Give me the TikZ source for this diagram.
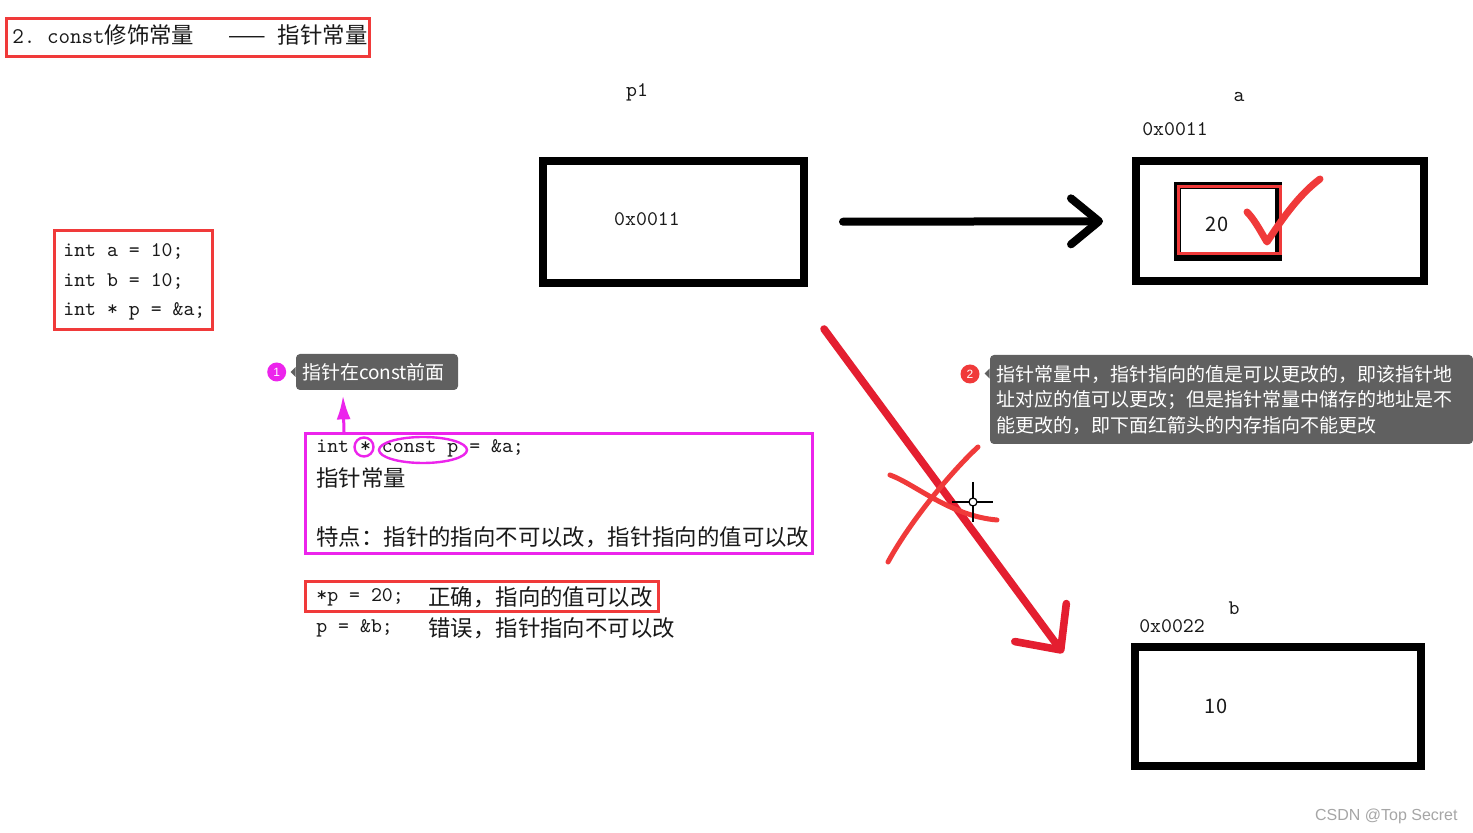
\documentclass[tikz,border=0pt]{standalone}
\usepackage{fontspec}
\setmainfont{Noto Sans CJK SC}
\setsansfont{Liberation Sans}
\definecolor{markred}{RGB}{240, 58, 58}
\definecolor{inkred}{RGB}{228, 30, 48}
\definecolor{markpink}{RGB}{236, 36, 236}
\definecolor{notegray}{RGB}{96, 96, 96}
\definecolor{textgray}{RGB}{25, 25, 25}
\usetikzlibrary{arrows.meta, positioning, shapes.geometric}
\tikzset{
	membox/.style={rectangle, draw=black, line width=4pt, inner sep=0pt},
	redframe/.style={rectangle, draw=markred, line width=1.5pt, inner sep=0pt},
	pinkframe/.style={rectangle, draw=markpink, line width=1.5pt, inner sep=0pt},
	pinkring/.style={ellipse, draw=markpink, line width=1.2pt, inner sep=0pt},
	codeline/.style={font=\ttfamily\fontsize{10.4}{12}\selectfont, text=textgray, inner sep=0pt, anchor=west},
	cjkline/.style={font=\fontsize{11.2}{13}\selectfont, text=textgray, inner sep=0pt, anchor=west},
	memlabel/.style={font=\ttfamily\fontsize{10.4}{12}\selectfont, text=textgray, inner sep=0pt},
	memvalue/.style={font=\fontsize{10}{12}\selectfont, text=textgray, inner sep=0pt},
	notebox/.style={rectangle, rounded corners=2pt, fill=notegray, text=white, font=\fontsize{9.5}{12.75}\selectfont, align=left, inner xsep=3pt, inner ysep=0pt},
	badge/.style={circle, text=white, font=\sffamily\fontsize{6}{6}\selectfont, inner sep=0pt, minimum size=9.5pt},
	ptrarrow/.style={-{Straight Barb[round, length=14pt, width=23pt]}, line width=4pt, line cap=round, draw=black},
	inkarrow/.style={-{Straight Barb[round, length=17pt, width=32pt]}, line width=3.8pt, line cap=round, draw=inkred},
	pinkarrow/.style={-{Latex[length=12pt, width=7pt]}, line width=1.5pt, draw=markpink},
	pen/.style={line width=2.5pt, line cap=round, line join=round, draw=markred},
}
\begin{document}
\begin{tikzpicture}[x=0.5pt, y=-0.5pt]
	\useasboundingbox[fill=white] (0,0) rectangle (1473,833);
	% title
	\node[redframe, minimum width=181.5pt, minimum height=19pt] (titlebox) at (188,37.5) {};
	\node[cjkline] (title) at (12,35) {{\ttfamily 2.\ const}修饰常量\hspace{17pt}——\hspace{6pt}指针常量};
	% variables
	\node[redframe, minimum width=79pt, minimum height=49.5pt] (varbox) at (133.5,280) {};
	\node[codeline] (vara) at (63,251) {int a = 10;};
	\node[codeline] (varb) at (63,281) {int b = 10;};
	\node[codeline] (varp) at (63,311) {int * p = \&a;};
	% memory
	\node[membox, minimum width=130.5pt, minimum height=61pt] (p1box) at (673.5,222) {};
	\node[memlabel] (p1name) at (637,92) {p1};
	\node[memlabel] (p1val) at (647,219) {0x0011};
	\node[membox, minimum width=144pt, minimum height=60pt] (abox) at (1280,221) {};
	\node[memlabel] (aname) at (1239,97) {a};
	\node[memlabel] (aaddr) at (1175,129) {0x0011};
	\node[membox, line width=3.5pt, minimum width=50.5pt, minimum height=36pt] (ainner) at (1227.5,222) {};
	\node[redframe, minimum width=51pt, minimum height=33.5pt] (amark) at (1229.5,220) {};
	\node[memvalue] (aval) at (1217,224) {20};
	\node[membox, minimum width=143pt, minimum height=59.5pt] (bbox) at (1278,706.5) {};
	\node[memlabel] (bname) at (1234,608) {b};
	\node[memlabel] (baddr) at (1172,626) {0x0022};
	\node[memvalue] (bval) at (1216,706) {10};
	% pointer const
	\node[pinkframe, minimum width=253.5pt, minimum height=60pt] (pinkbox) at (559,493.5) {};
	\node[codeline] (ptrcode) at (316,448) {int * const p = \&a;};
	\node[pinkring, minimum width=9.5pt, minimum height=9.5pt] (starring) at (364,447) {};
	\node[pinkring, minimum width=44pt, minimum height=13pt] (constring) at (423,450) {};
	\node[cjkline] (ptrname) at (316,478) {指针常量};
	\node[cjkline] (ptrnote) at (316,537) {特点：指针的指向不可以改，指针指向的值可以改};
	\node[redframe, minimum width=176.5pt, minimum height=15pt] (okbox) at (482,596.5) {};
	\node[codeline] (okcode) at (316,597) {*p = 20;};
	\node[cjkline] (oktext) at (428,597) {正确，指向的值可以改};
	\node[codeline] (badcode) at (316,628) {p = \&b;};
	\node[cjkline] (badtext) at (428,628) {错误，指针指向不可以改};
	% notes
	\node[notebox, minimum width=81pt, minimum height=18pt, text width=75pt] (note1) at (377,372) {指针在const前面};
	\fill[notegray] ([yshift=2.5pt]note1.west) -- ++(-2.5pt,-2.5pt) -- ++(2.5pt,-2.5pt) -- cycle;
	\node[badge, fill=markpink, left=4.5pt of note1] (badge1) {1};
	\node[notebox, minimum width=241.5pt, minimum height=44.5pt, text width=235.5pt] (note2) at (1231.5,399.5) {指针常量中，指针指向的值是可以更改的，即该指针地\\址对应的值可以更改；但是指针常量中储存的地址是不\\能更改的，即下面红箭头的内存指向不能更改};
	\fill[notegray] ([yshift=-7pt]note2.north west) -- ++(-2.5pt,-2.5pt) -- ++(2.5pt,-2.5pt) -- cycle;
	\node[badge, fill=markred] (badge2) at (970,374) {2};
	% arrows
	\draw[ptrarrow, shorten <=17.5pt, shorten >=14.5pt] (p1box) -- (abox);
	\draw[pinkarrow] ([xshift=20pt]pinkbox.north west) -- ([xshift=-17pt, yshift=-2.5pt]note1.south);
	\draw[inkarrow] ([xshift=8pt, yshift=-21pt]p1box.south east) -- ([xshift=-34pt, yshift=-5pt]bbox.north west);
	% hand marks
	\draw[pen, line width=3.5pt] (1247,212) .. controls (1255,220) and (1262,234) .. (1267,242) .. controls (1284,216) and (1300,194) .. (1320,179);
	\draw[pen] (978,447) .. controls (955,468) and (912,518) .. (888,562);
	\draw[pen] (890,475) .. controls (915,484) and (950,516) .. (997,520);
	% cursor
	\draw[line width=0.8pt] (952,502) -- (993,502) (973,482) -- (973,522);
	\draw[line width=0.6pt, fill=white] (973,502) circle (2pt);
	\node[font=\sffamily\fontsize{8}{8}\selectfont, text=gray!70, anchor=east, inner sep=0pt] (mark) at (1458,816) {CSDN @Top Secret};
\end{tikzpicture}
\end{document}
